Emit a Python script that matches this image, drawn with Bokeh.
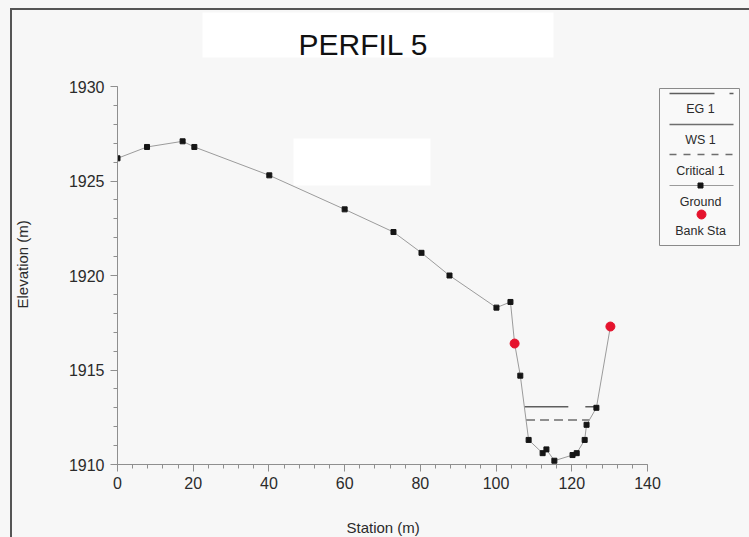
import numpy as np
from bokeh.plotting import figure
from bokeh.models import Range1d, FixedTicker, Label, Title
from bokeh.embed import file_html
from bokeh.resources import INLINE

# ---- cross-section data -------------------------------------------------
TITLE = "PERFIL 5"
X_LABEL = "Station (m)"
Y_LABEL = "Elevation (m)"

station = [0.0, 7.8, 17.2, 20.3, 40.1, 60.0, 72.9, 80.3, 87.7, 100.1, 103.8,
           104.9, 106.4, 108.6, 112.3, 113.3, 115.4, 120.2, 121.3, 123.4,
           123.9, 126.5, 130.2]
elevation = [1926.2, 1926.8, 1927.1, 1926.8, 1925.3, 1923.5, 1922.3, 1921.2,
             1920.0, 1918.3, 1918.6, 1916.4, 1914.7, 1911.3, 1910.6, 1910.8,
             1910.2, 1910.5, 1910.6, 1911.3, 1912.1, 1913.0, 1917.3]
bank_station = [104.9, 130.2]
eg_elev = 1913.06      # energy grade line
crit_elev = 1912.36    # critical water surface

legend_labels = ["EG 1", "WS 1", "Critical 1", "Ground", "Bank Sta"]
x_ticks = [0, 20, 40, 60, 80, 100, 120, 140]
y_ticks = [1910, 1915, 1920, 1925, 1930]
x_minor = list(range(0, 141, 4))
y_minor = list(range(1910, 1931))

# ---- page geometry (pixels) ---------------------------------------------
W, H = 749, 537
FRAME_L, FRAME_R, FRAME_T, FRAME_B = 117, 745, 8, 464
X_AXIS_END_PX = 647     # pixel column of station 140
Y_AXIS_TOP_PX = 86      # pixel row of elevation 1930
X0, X1 = 0, 140
Y0, Y1 = 1910, 1930

x_per_px = (X1 - X0) / (X_AXIS_END_PX - FRAME_L)
y_per_px = (Y1 - Y0) / (FRAME_B - Y_AXIS_TOP_PX)
x_end = X0 + (FRAME_R - FRAME_L) * x_per_px
y_end = Y0 + (FRAME_B - FRAME_T) * y_per_px


def dx(px):
    return X0 + (px - FRAME_L) * x_per_px


def dy(py):
    return Y0 + (FRAME_B - py) * y_per_px


def wet_limits(level):
    """Stations where a horizontal water level meets the channel banks."""
    s = np.asarray(station)
    z = np.asarray(elevation)
    i = int(np.argmin(z))
    j = i
    while z[j] < level:
        j -= 1
    left = s[j] + (z[j] - level) / (z[j] - z[j + 1]) * (s[j + 1] - s[j])
    k = i
    while z[k] < level:
        k += 1
    right = s[k - 1] + (level - z[k - 1]) / (z[k] - z[k - 1]) * (s[k] - s[k - 1])
    return left, right


FONT = "Liberation Sans"
BG = "#f7f7f7"
TEXT = "#2b2b2b"

p = figure(width=W, height=H, x_range=Range1d(X0, x_end), y_range=Range1d(Y0, y_end),
           output_backend="svg", toolbar_location=None,
           min_border_left=FRAME_L, min_border_right=W - FRAME_R,
           min_border_top=FRAME_T, min_border_bottom=H - FRAME_B)
p.background_fill_alpha = 0
p.border_fill_alpha = 0
p.outline_line_color = None
p.xgrid.visible = False
p.ygrid.visible = False
p.styles = {
    "background": ("linear-gradient(#555, #555) 10px 8px / 2px 529px no-repeat, "
                   "linear-gradient(#555, #555) 10px 8px / 739px 2px no-repeat, " + BG),
}

# white panels behind the title and in the upper plot area
p.quad(left=[dx(202), dx(293)], right=[dx(553), dx(430)],
       top=[dy(12), dy(138)], bottom=[dy(57), dy(185)],
       fill_color="white", line_color=None)

# axes
p.xaxis.ticker = FixedTicker(ticks=x_ticks, minor_ticks=x_minor)
p.yaxis.ticker = FixedTicker(ticks=y_ticks, minor_ticks=y_minor)
p.xaxis.bounds = (X0, X1)
p.yaxis.bounds = (Y0, Y1)
for ax in (p.xaxis[0], p.yaxis[0]):
    ax.axis_line_color = "#8f8f8f"
    ax.major_tick_line_color = "#8f8f8f"
    ax.minor_tick_line_color = "#8f8f8f"
    ax.major_tick_in = 0
    ax.major_tick_out = 7
    ax.minor_tick_in = 0
    ax.minor_tick_out = 4
    ax.major_label_text_font = FONT
    ax.major_label_text_font_size = "16px"
    ax.major_label_text_color = TEXT
    # blank spacer label: widens the axis panel so the titles sit further out
    ax.axis_label = " "
    ax.axis_label_text_font_size = "1px"
p.xaxis.major_label_standoff = 5
p.yaxis.major_label_standoff = 6
p.xaxis.axis_label_standoff = 20
p.yaxis.axis_label_standoff = 30

# axis titles, placed along the axis extents rather than the whole frame
p.add_layout(Title(text=X_LABEL, align="left", offset=229, standoff=2,
                   text_font=FONT, text_font_size="15px", text_font_style="normal",
                   text_color=TEXT), "below")
p.add_layout(Title(text=Y_LABEL, align="left", offset=156, standoff=2,
                   text_font=FONT, text_font_size="15px", text_font_style="normal",
                   text_color=TEXT), "left")

# water surfaces
eg_l, eg_r = wet_limits(eg_elev)
cr_l, cr_r = wet_limits(crit_elev)
p.line([eg_l, eg_r], [eg_elev, eg_elev], line_color="#5e5e5e", line_width=1.5,
       line_dash="44 17")
p.line([cr_l, cr_r], [crit_elev, crit_elev], line_color="#6e6e6e", line_width=1.5,
       line_dash="9 5")

# ground profile and bank stations
p.line(station, elevation, line_color="#9b9b9b", line_width=1)
p.scatter(station, elevation, marker="square", size=5,
          fill_color="#151515", line_color="#151515")
bank_elev = np.interp(bank_station, station, elevation)
p.scatter(bank_station, bank_elev, marker="circle", size=9,
          fill_color="#e5132d", line_color="#e5132d")

# title
p.add_layout(Label(x=dx(363), y=dy(44), text=TITLE, text_align="center",
                   text_baseline="middle", text_font=FONT,
                   text_font_size="30px", text_color="#111111"))

# legend panel
LG_L, LG_R, LG_T, LG_B = 659, 739, 88, 245
LG_LINE_L, LG_LINE_R, LG_CX = 669, 733, 700
p.quad(left=[dx(LG_L)], right=[dx(LG_R)], top=[dy(LG_T)], bottom=[dy(LG_B)],
       fill_color="white", fill_alpha=0.25, line_color="#8a8a8a", line_width=1)
lx = [dx(LG_LINE_L), dx(LG_LINE_R)]
p.line(lx, [dy(93)] * 2, line_color="#5e5e5e", line_width=1.5, line_dash="45 15")
p.line(lx, [dy(124)] * 2, line_color="#6e6e6e", line_width=1.5)
p.line(lx, [dy(154)] * 2, line_color="#6e6e6e", line_width=1.5, line_dash="7 7")
p.line(lx, [dy(185)] * 2, line_color="#9b9b9b", line_width=1)
p.scatter([dx(LG_CX)], [dy(185)], marker="square", size=5,
          fill_color="#151515", line_color="#151515")
p.scatter([dx(LG_CX + 1)], [dy(214)], marker="circle", size=9,
          fill_color="#e5132d", line_color="#e5132d")
for label, py in zip(legend_labels, [108, 139, 170, 201, 230]):
    p.add_layout(Label(x=dx(LG_CX), y=dy(py), text=label, text_align="center",
                       text_baseline="middle", text_font=FONT,
                       text_font_size="12.5px", text_color=TEXT))

open("out.html", "w").write(file_html(p, INLINE))
